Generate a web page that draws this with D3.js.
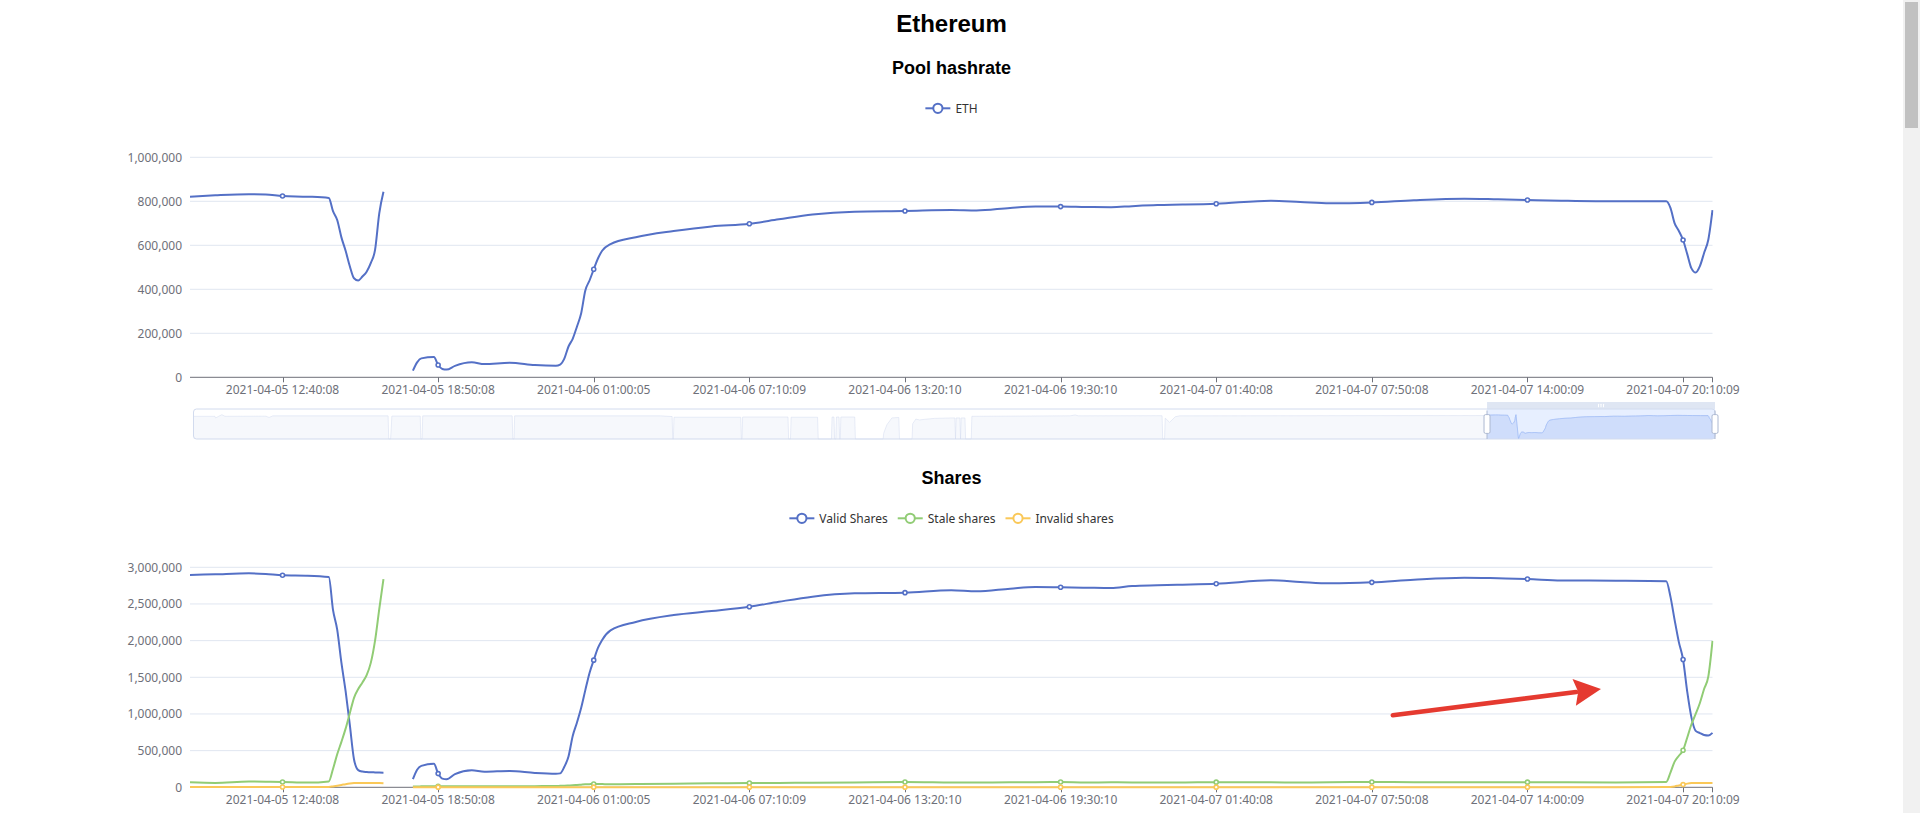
<!DOCTYPE html>
<html><head><meta charset="utf-8">
<script src="https://cdn.jsdelivr.net/npm/d3@7"></script>
<style>
html,body{margin:0;padding:0;background:#fff;overflow:hidden;}
svg{display:block;}
</style></head>
<body>
<svg id="c" width="1920" height="813"></svg>
<script>
// ---------------- DATA ----------------
const pageTitle = "Ethereum";
const hashTitle = "Pool hashrate";
const sharesTitle = "Shares";
const hashLegend = ["ETH"];
const sharesLegend = ["Valid Shares", "Stale shares", "Invalid shares"];

const times = ["2021-04-05 09:00:08","2021-04-05 10:00:08","2021-04-05 11:20:08","2021-04-05 12:00:08","2021-04-05 12:40:08","2021-04-05 13:40:08","2021-04-05 14:30:08","2021-04-05 14:40:08","2021-04-05 14:50:08","2021-04-05 15:00:08","2021-04-05 15:10:08","2021-04-05 15:20:08","2021-04-05 15:30:08","2021-04-05 15:40:08","2021-04-05 15:50:08","2021-04-05 16:00:08","2021-04-05 16:10:08","2021-04-05 16:20:08","2021-04-05 16:30:08","2021-04-05 16:40:08","2021-04-05 17:20:08","2021-04-05 17:50:08","2021-04-05 18:00:08","2021-04-05 18:10:08","2021-04-05 18:40:08","2021-04-05 18:50:08","2021-04-05 19:00:08","2021-04-05 19:10:08","2021-04-05 19:30:08","2021-04-05 20:10:08","2021-04-05 20:40:08","2021-04-05 21:40:08","2021-04-05 22:40:08","2021-04-05 23:30:08","2021-04-05 23:40:08","2021-04-05 23:50:08","2021-04-06 00:00:05","2021-04-06 00:10:05","2021-04-06 00:20:05","2021-04-06 00:30:05","2021-04-06 00:40:05","2021-04-06 00:50:05","2021-04-06 01:00:05","2021-04-06 01:10:05","2021-04-06 01:20:05","2021-04-06 01:40:05","2021-04-06 02:40:05","2021-04-06 04:10:09","2021-04-06 05:40:09","2021-04-06 07:10:09","2021-04-06 08:20:09","2021-04-06 09:40:09","2021-04-06 11:20:10","2021-04-06 13:20:10","2021-04-06 15:10:10","2021-04-06 16:10:10","2021-04-06 17:30:10","2021-04-06 18:30:10","2021-04-06 19:30:10","2021-04-06 20:30:10","2021-04-06 21:30:10","2021-04-06 22:20:10","2021-04-06 23:20:10","2021-04-07 00:20:08","2021-04-07 01:40:08","2021-04-07 03:50:08","2021-04-07 05:00:08","2021-04-07 06:10:08","2021-04-07 07:50:08","2021-04-07 09:30:09","2021-04-07 11:30:09","2021-04-07 12:50:09","2021-04-07 14:00:09","2021-04-07 15:20:09","2021-04-07 17:30:09","2021-04-07 19:30:09","2021-04-07 19:40:09","2021-04-07 19:50:09","2021-04-07 20:00:09","2021-04-07 20:10:09","2021-04-07 20:20:09","2021-04-07 20:30:09","2021-04-07 20:40:09","2021-04-07 20:50:09","2021-04-07 21:00:09","2021-04-07 21:10:09","2021-04-07 21:20:09"];

const hashrate = [821000,827000,832000,831000,824000,821000,815000,755000,715000,636000,575000,505000,450000,440000,458000,480000,520000,579000,745000,843000,null,30000,68000,86000,92000,56000,38000,35000,52000,68000,60000,66000,56000,53000,58000,85000,140000,175000,230000,290000,395000,440000,491000,540000,575000,605000,637000,665000,686000,698000,718000,740000,753000,756000,760000,758000,770000,776000,776000,774000,773000,778000,783000,785000,789000,803000,797000,791000,795000,805000,812000,809000,806000,803000,800000,800000,770000,700000,665000,624000,560000,495000,476000,505000,565000,625000,760000];

const validShares = [2895000,2905000,2918000,2909000,2891000,2886000,2868000,2420000,2150000,1700000,1310000,850000,380000,235000,215000,209000,205000,203000,201000,200000,null,110000,240000,292000,320000,187000,118000,109000,180000,232000,212000,223000,196000,185000,190000,280000,420000,700000,880000,1080000,1325000,1560000,1734000,1900000,2010000,2140000,2255000,2349000,2403000,2462000,2530000,2600000,2645000,2654000,2686000,2672000,2708000,2731000,2727000,2722000,2717000,2745000,2755000,2763000,2776000,2822000,2800000,2781000,2795000,2831000,2858000,2850000,2840000,2820000,2817000,2810000,2600000,2280000,1980000,1743000,1300000,950000,770000,740000,712000,705000,742000];

const staleShares = [68000,60000,78000,76000,72000,64000,80000,250000,450000,620000,800000,1010000,1220000,1340000,1430000,1530000,1700000,2000000,2430000,2840000,null,12000,12000,13000,14000,14000,14000,14000,15000,15000,15000,16000,16000,18000,20000,22000,25000,28000,32000,36000,40000,43000,45000,45000,44000,42000,44000,50000,55000,59000,60000,62000,66000,72000,66000,64000,68000,70000,72000,66000,68000,66000,64000,65000,70000,68000,66000,68000,72000,70000,70000,68000,70000,68000,66000,72000,200000,350000,430000,505000,680000,860000,1000000,1150000,1340000,1510000,1998000];

const invalidShares = [5000,5000,5000,5000,5000,5000,5000,12000,22000,32000,43000,52000,58000,60000,60000,60000,60000,59000,58000,55000,null,2000,2000,2000,2000,2000,2000,2000,2000,2000,2000,2000,2000,2000,2000,2000,2000,2000,2000,2000,2000,2000,2000,2000,2000,2000,2000,2000,2000,2000,2000,2000,2000,2000,2000,2000,2000,2000,2000,2000,2000,2000,2000,2000,2000,2000,2000,2000,2000,2000,2000,2000,2000,2000,2000,3000,5000,12000,25000,37000,50000,58000,60000,60000,60000,60000,60000];

const tickLabels = ["2021-04-05 12:40:08","2021-04-05 18:50:08","2021-04-06 01:00:05","2021-04-06 07:10:09","2021-04-06 13:20:10","2021-04-06 19:30:10","2021-04-07 01:40:08","2021-04-07 07:50:08","2021-04-07 14:00:09","2021-04-07 20:10:09"];

const hashTicks = [0,200000,400000,600000,800000,1000000];
const shareTicks = [0,500000,1000000,1500000,2000000,2500000,3000000];

// earlier history shown only in the zoom slider preview (hashrate)
const overviewTimes = ["2021-03-22 02:40:00","2021-03-22 08:20:00","2021-03-22 08:30:00","2021-03-22 09:20:00","2021-03-22 10:10:00","2021-03-22 11:00:00","2021-03-22 21:50:00","2021-03-22 22:40:00","2021-03-22 23:40:00","2021-03-24 06:10:00","2021-03-24 06:20:00","2021-03-24 06:50:00","2021-03-24 07:10:00","2021-03-24 14:40:00","2021-03-24 14:50:00","2021-03-24 15:10:00","2021-03-24 15:20:00","2021-03-25 15:00:00","2021-03-25 15:10:00","2021-03-25 15:30:00","2021-03-25 15:40:00","2021-03-27 06:10:00","2021-03-27 09:20:00","2021-03-27 09:30:00","2021-03-27 09:40:00","2021-03-27 09:50:00","2021-03-28 03:30:00","2021-03-28 03:40:00","2021-03-28 03:50:00","2021-03-28 04:00:00","2021-03-28 16:00:00","2021-03-28 16:10:00","2021-03-28 16:40:00","2021-03-28 16:50:00","2021-03-28 23:50:00","2021-03-29 00:00:00","2021-03-29 03:30:00","2021-03-29 03:40:00","2021-03-29 04:10:00","2021-03-29 04:20:00","2021-03-29 04:40:00","2021-03-29 04:50:00","2021-03-29 05:30:00","2021-03-29 05:40:00","2021-03-29 05:50:00","2021-03-29 06:00:00","2021-03-29 09:40:00","2021-03-29 09:50:00","2021-03-29 17:10:00","2021-03-29 17:20:00","2021-03-29 18:10:00","2021-03-29 19:30:00","2021-03-29 21:20:00","2021-03-29 21:30:00","2021-03-30 00:50:00","2021-03-30 01:00:00","2021-03-30 01:50:00","2021-03-30 02:50:00","2021-03-30 04:10:00","2021-03-30 06:50:00","2021-03-30 11:40:00","2021-03-30 12:10:00","2021-03-30 12:20:00","2021-03-30 12:30:00","2021-03-30 13:30:00","2021-03-30 13:40:00","2021-03-30 13:50:00","2021-03-30 14:50:00","2021-03-30 15:00:00","2021-03-30 16:30:00","2021-03-30 16:40:00","2021-03-31 18:40:00","2021-03-31 20:00:00","2021-03-31 20:50:00","2021-04-01 19:00:00","2021-04-01 19:10:00","2021-04-01 19:40:00","2021-04-01 19:50:00","2021-04-01 21:00:00","2021-04-01 22:30:00","2021-04-01 23:40:00","2021-04-03 12:00:00","2021-04-05 08:50:00"];
const overviewHashrate = [770000,770000,700000,770000,840000,770000,775000,720000,790000,790000,null,null,780000,780000,null,null,790000,790000,null,null,790000,790000,760000,null,null,730000,730000,null,null,740000,740000,null,null,730000,730000,null,null,740000,740000,null,null,740000,740000,null,null,740000,740000,null,null,40000,400000,700000,720000,null,null,450000,650000,610000,640000,680000,700000,700000,null,700000,700000,null,700000,700000,null,null,770000,790000,830000,790000,795000,null,null,690000,510000,750000,790000,795000,800000];

// annotation arrow (time, shares value)
const arrowFrom = ["2021-04-07 08:40:00", 983000];
const arrowTo = ["2021-04-07 16:55:00", 1342000];

// ---------------- DRAWING ----------------
const parse = d3.timeParse("%Y-%m-%d %H:%M:%S");
const T = times.map(parse);
const svg = d3.select("#c");
const plotL = 190, plotR = 1712.5;
const cx = 951.5;
const x = d3.scaleTime().domain([T[0], T[T.length - 1]]).range([plotL, plotR]);
const uiFont = "'Noto Sans','Open Sans','DejaVu Sans',sans-serif";
const titleFont = "'Liberation Sans',Arial,sans-serif";
const axisColor = "#6E7079";
const gridColor = "#E0E6F1";
const colors = ["#5470c6", "#91cc75", "#fac858"];
const tickSet = new Set(tickLabels);

svg.append("text").attr("x", cx).attr("y", 31.5).attr("text-anchor", "middle")
  .attr("font-family", titleFont).attr("font-weight", "bold").attr("font-size", 24)
  .attr("fill", "#000").text(pageTitle);

function drawChart(offsetY, title, names, seriesList, yTicks) {
  const g = svg.append("g").attr("transform", `translate(0,${offsetY})`);
  const top = 157.3, bottom = 377.3;
  const y = d3.scaleLinear().domain([0, d3.max(yTicks)]).range([bottom, top]);

  g.append("text").attr("x", cx).attr("y", 74).attr("text-anchor", "middle")
    .attr("font-family", titleFont).attr("font-weight", "bold").attr("font-size", 18)
    .attr("fill", "#000").text(title);

  // legend
  const lg = g.append("g");
  const items = names.map((n, i) => {
    const it = lg.append("g");
    it.append("line").attr("x1", 0).attr("x2", 25).attr("y1", 0).attr("y2", 0)
      .attr("stroke", colors[i]).attr("stroke-width", 2);
    it.append("circle").attr("cx", 12.5).attr("cy", 0).attr("r", 4.6)
      .attr("fill", "#fff").attr("stroke", colors[i]).attr("stroke-width", 2);
    const t = it.append("text").attr("x", 30).attr("y", 4.2)
      .attr("font-family", uiFont).attr("font-size", 12).attr("fill", "#333").text(n);
    return { it, w: 30 + t.node().getComputedTextLength() };
  });
  const total = d3.sum(items, d => d.w) + 10 * (items.length - 1);
  let lx = cx - total / 2;
  items.forEach(d => { d.it.attr("transform", `translate(${lx},108.3)`); lx += d.w + 10; });

  // grid + y labels
  g.selectAll(".gl").data(yTicks.filter(v => v > 0)).join("line")
    .attr("x1", plotL).attr("x2", plotR).attr("y1", d => y(d)).attr("y2", d => y(d))
    .attr("stroke", gridColor).attr("stroke-width", 1);
  g.selectAll(".yl").data(yTicks).join("text")
    .attr("x", plotL - 8).attr("y", d => y(d) + 4.2).attr("text-anchor", "end")
    .attr("font-family", uiFont).attr("font-size", 12).attr("fill", axisColor)
    .text(d3.format(","));

  // x axis
  g.append("line").attr("x1", plotL).attr("x2", plotR).attr("y1", bottom).attr("y2", bottom)
    .attr("stroke", axisColor).attr("stroke-width", 1);
  const tk = tickLabels.map(parse);
  g.selectAll(".xt").data(tk).join("line")
    .attr("x1", d => Math.round(x(d)) + 0.5).attr("x2", d => Math.round(x(d)) + 0.5)
    .attr("y1", bottom).attr("y2", bottom + 5).attr("stroke", axisColor);
  g.append("line").attr("x1", plotR).attr("x2", plotR).attr("y1", bottom).attr("y2", bottom + 5)
    .attr("stroke", axisColor);
  g.selectAll(".xl").data(tickLabels).join("text")
    .attr("x", d => x(parse(d))).attr("y", bottom + 16.5).attr("text-anchor", "middle")
    .attr("font-family", uiFont).attr("font-size", 12).attr("fill", axisColor).text(d => d);

  // series
  const clipId = "clip" + offsetY;
  g.append("clipPath").attr("id", clipId).append("rect")
    .attr("x", plotL - 1).attr("y", top - 10).attr("width", plotR - plotL + 2).attr("height", bottom - top + 12);
  const line = d3.line().defined(d => d.v != null).x(d => x(d.t)).y(d => y(d.v)).curve(d3.curveMonotoneX);
  seriesList.forEach((vals, i) => {
    const pts = vals.map((v, k) => ({ t: T[k], s: times[k], v }));
    g.append("path").attr("clip-path", `url(#${clipId})`).attr("d", line(pts))
      .attr("fill", "none").attr("stroke", colors[i]).attr("stroke-width", 2)
      .attr("stroke-linejoin", "round");
    g.selectAll(".mk" + i).data(pts.filter(p => p.v != null && tickSet.has(p.s))).join("circle")
      .attr("cx", p => x(p.t)).attr("cy", p => y(p.v)).attr("r", 2)
      .attr("fill", "#fff").attr("stroke", colors[i]).attr("stroke-width", 1.6);
  });
  return { g, y };
}

drawChart(0, hashTitle, hashLegend, [hashrate], hashTicks);
const sh = drawChart(410, sharesTitle, sharesLegend, [validShares, staleShares, invalidShares], shareTicks);

// ---------------- DATA ZOOM SLIDER ----------------
const sL = 193.5, sR = 1715, sT = 409, sB = 439;
const allTimes = overviewTimes.map(parse).concat(T);
const allVals = overviewHashrate.concat(hashrate);
const xs = d3.scaleTime().domain([allTimes[0], allTimes[allTimes.length - 1]]).range([sL, sR]);
const ext = d3.extent(allVals.filter(v => v != null));
const off = (ext[1] - ext[0]) * 0.3;
const ys = d3.scaleLinear().domain([ext[0] - off, ext[1] + off]).range([sB, sT]);
const shadowPts = allTimes.map((t, i) => [xs(t), allVals[i] == null ? sB : ys(allVals[i])]);
const sLine = d3.line();
const areaPts = [[shadowPts[0][0], sB]].concat(shadowPts, [[shadowPts[shadowPts.length - 1][0], sB]]);
const sg = svg.append("g");
sg.append("path").attr("d", sLine(areaPts) + "Z").attr("fill", "#d2dbee").attr("fill-opacity", 0.2);
sg.append("path").attr("d", sLine(shadowPts)).attr("fill", "none").attr("stroke", "#d2dbee").attr("stroke-width", 0.5);
const wL = xs(T[0]), wR = xs(T[T.length - 1]);
sg.append("clipPath").attr("id", "selClip").append("rect")
  .attr("x", wL).attr("y", sT).attr("width", wR - wL).attr("height", sB - sT);
sg.append("path").attr("clip-path", "url(#selClip)").attr("d", sLine(areaPts) + "Z")
  .attr("fill", "#8fb0f7").attr("fill-opacity", 0.2);
sg.append("path").attr("clip-path", "url(#selClip)").attr("d", sLine(shadowPts))
  .attr("fill", "none").attr("stroke", "#8fb0f7").attr("stroke-width", 0.5);
sg.append("rect").attr("x", wL).attr("y", sT).attr("width", wR - wL).attr("height", sB - sT)
  .attr("fill", "rgba(135,175,255,0.2)");
sg.append("rect").attr("x", sL).attr("y", sT).attr("width", sR - sL).attr("height", sB - sT)
  .attr("rx", 3).attr("fill", "none").attr("stroke", "#d2dbee");
// move handle
sg.append("rect").attr("x", wL).attr("y", sT - 7).attr("width", wR - wL).attr("height", 7)
  .attr("fill", "#D2DBEE").attr("fill-opacity", 0.7);
[-2.5, 0, 2.5].forEach(d => sg.append("rect").attr("x", (wL + wR) / 2 + d - 0.5).attr("y", sT - 5.2)
  .attr("width", 1).attr("height", 3.4).attr("rx", 0.5).attr("fill", "#fff"));
// handles
[wL, wR].forEach(hx => {
  sg.append("line").attr("x1", hx).attr("x2", hx).attr("y1", sT + 1.5).attr("y2", sT + 5.6).attr("stroke", "#ACB8D1");
  sg.append("line").attr("x1", hx).attr("x2", hx).attr("y1", sB - 5.6).attr("y2", sB).attr("stroke", "#ACB8D1");
  sg.append("rect").attr("x", hx - 3).attr("y", sT + 5.6).attr("width", 6).attr("height", 18.8)
    .attr("rx", 1.5).attr("fill", "#fff").attr("stroke", "#ACB8D1");
});

// ---------------- ANNOTATION ARROW ----------------
(function () {
  const y = sh.y;
  const x0 = x(parse(arrowFrom[0])), y0 = y(arrowFrom[1]) + 410;
  const x1 = x(parse(arrowTo[0])), y1 = y(arrowTo[1]) + 410;
  const dx = x1 - x0, dy = y1 - y0, L = Math.hypot(dx, dy);
  const ux = dx / L, uy = dy / L, px = -uy, py = ux;
  const hl = 27, hw = 13.5;
  const bx = x1 - ux * hl, by = y1 - uy * hl;
  const red = "#e53a30";
  svg.append("line").attr("x1", x0).attr("y1", y0).attr("x2", bx + ux * 2).attr("y2", by + uy * 2)
    .attr("stroke", red).attr("stroke-width", 4.5).attr("stroke-linecap", "round");
  svg.append("path").attr("d", `M${x1},${y1}L${bx + px * hw},${by + py * hw}L${bx + ux * 4},${by + uy * 4}L${bx - px * hw},${by - py * hw}Z`)
    .attr("fill", red);
})();

// ---------------- PAGE SCROLLBAR ----------------
svg.append("rect").attr("x", 1903).attr("y", 0).attr("width", 17).attr("height", 813).attr("fill", "#f1f1f1");
svg.append("rect").attr("x", 1905).attr("y", 2).attr("width", 13).attr("height", 126).attr("fill", "#c1c1c1");
</script>
</body></html>
